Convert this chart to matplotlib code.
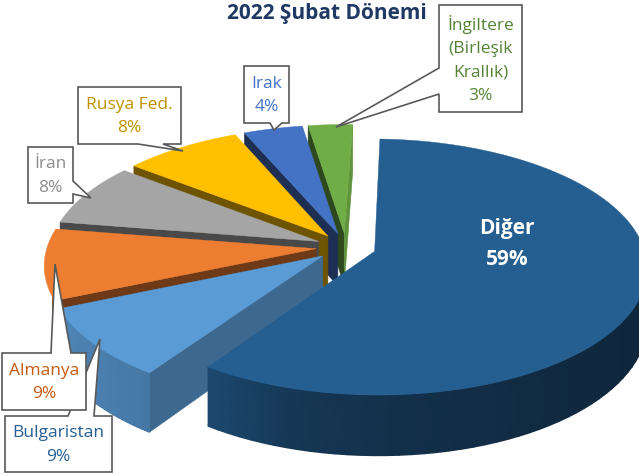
# 3D exploded pie, drawn by hand since matplotlib has no 3D pie
import matplotlib
matplotlib.use('Agg')
import matplotlib.pyplot as plt
from matplotlib.colors import LinearSegmentedColormap
from matplotlib.patches import Polygon
import numpy as np

# Chart data, clockwise from the first slice
names = ['Diğer', 'Bulgaristan', 'Almanya', 'İran', 'Rusya Fed.', 'Irak', 'İngiltere\n(Birleşik\nKrallık)']
shares = [59, 9, 9, 8, 8, 4, 3]
colors = ['#255E91', '#5B9BD5', '#ED7D31', '#A5A5A5', '#FFC000', '#4472C4', '#70AD47']
label_colors = ['white', '#255E91', '#C55A11', '#8C8C8C', '#BF9000', '#4472C4', '#548235']

# Pie view settings, in pixels
cx, cy = 346, 248
radius = 269
explode = 30
depth = 53
squash = 0.465
persp = 0.1216
first_angle = 88

# Callouts: box (left, top, right, bottom) and pointer (base, tip, base)
boxes = {
    'Bulgaristan': ((5, 417, 112, 473), [(68, 417), (100, 340), (94, 417)]),
    'Almanya': ((2, 354, 86, 411), [(51, 354), (55, 265), (71, 354)]),
    'İran': ((28, 148, 73, 204), [(73, 182), (91, 199), (73, 195)]),
    'Rusya Fed.': ((78, 88, 181, 145), [(138, 145), (183, 152), (163, 145)]),
    'Irak': ((244, 67, 289, 124), [(270, 124), (274, 131), (282, 124)]),
    'İngiltere\n(Birleşik\nKrallık)': ((439, 6, 522, 113), [(439, 69), (336, 128), (439, 95)]),
}


def project(x, y, z=0.0):
    p = 1 / (1 + persp * y / radius)
    return cx + x * p, cy - squash * y * p + z * p


def shade(color, f):
    return np.array(matplotlib.colors.to_rgb(color)) * f


def draw_slice(ax, start, end, color):
    mid = np.radians((start + end) / 2)
    ox, oy = explode * np.cos(mid), explode * np.sin(mid)
    angles = np.radians(np.linspace(start, end, 90))
    xs = ox + radius * np.cos(angles)
    ys = oy + radius * np.sin(angles)

    # radial faces, only the ones turned towards the viewer
    for a, px, py, turn in [(start, xs[0], ys[0], 90), (end, xs[-1], ys[-1], -90)]:
        normal = np.radians(a + turn)
        if np.sin(normal) >= 0:
            continue
        f = np.interp(np.cos(normal), [-1, 0.4, 0.82, 1], [0.42, 0.46, 0.67, 0.85])
        ax.add_patch(Polygon([project(ox, oy), project(px, py), project(px, py, depth), project(ox, oy, depth)],
                             closed=True, facecolor=shade(color, f), edgecolor=shade(color, f), linewidth=0.4))

    # outer wall, front part only, as one smooth mesh
    front = (np.sin(angles) < 0) & (np.cos(angles) > -0.93)
    if front.sum() > 1:
        top_x, top_y = project(xs[front], ys[front])
        low_x, low_y = project(xs[front], ys[front], depth)
        mesh_x = np.vstack([top_x, low_x])
        mesh_y = np.vstack([top_y, low_y])
        f = np.interp(np.cos(angles[front]), [-1, -0.56, -0.3, 0, 1], [0.88, 0.77, 0.6, 0.52, 0.4])
        cmap = LinearSegmentedColormap.from_list('wall', ['black', color])
        ax.pcolormesh(mesh_x, mesh_y, np.vstack([f, f]), shading='gouraud', cmap=cmap, vmin=0, vmax=1)

    # top
    top = [project(ox, oy)] + [project(x, y) for x, y in zip(xs, ys)]
    ax.add_patch(Polygon(top, closed=True, facecolor=color, edgecolor=color, linewidth=0.3))


plt.rcParams['font.family'] = ['Open Sans', 'DejaVu Sans']
fig = plt.figure(figsize=(6.39, 4.77), dpi=100)
ax = fig.add_axes([0, 0, 1, 1])

# Work out slice angles, then paint from the back to the front
edges = first_angle - np.cumsum([0] + shares) * 3.6
for i in range(len(shares) - 1, -1, -1):
    draw_slice(ax, edges[i], edges[i + 1], colors[i])

ax.set(xlim=(0, 639), ylim=(477, 0))
ax.axis('off')

# Title
ax.text(327, 14, '2022 Şubat Dönemi', color='#1F3864', fontsize=15, fontweight='bold',
        ha='center', va='center')

# Big slice label sits on the pie
ax.text(507, 229, names[0], color=label_colors[0], fontsize=15, fontweight='bold', ha='center', va='center')
ax.text(507, 260, f'{shares[0]}%', color=label_colors[0], fontsize=15, fontweight='bold', ha='center', va='center')

# Callouts
for i, name in enumerate(names):
    if name not in boxes:
        continue
    (l, t, r, b), pointer = boxes[name]
    # slot the pointer into the side of the box it leaves from
    base0, tip, base1 = pointer
    if base0[1] == t:
        outline = [(l, t), base0, tip, base1, (r, t), (r, b), (l, b)]
    elif base0[1] == b:
        outline = [(l, t), (r, t), (r, b), base1, tip, base0, (l, b)]
    elif base0[0] == r:
        outline = [(l, t), (r, t), base0, tip, base1, (r, b), (l, b)]
    else:
        outline = [(l, t), (r, t), (r, b), (l, b), base1, tip, base0]
    z = 5 + (1 if name == 'Almanya' else 0)
    ax.add_patch(Polygon(outline, closed=True, facecolor='white', edgecolor='#595959', linewidth=1.2, zorder=z))
    ax.text((l + r) / 2, (t + b) / 2, f'{name}\n{shares[i]}%', color=label_colors[i], fontsize=12.5,
            ha='center', va='center', linespacing=1.62, zorder=z)

fig.savefig('out.png', dpi=100)
